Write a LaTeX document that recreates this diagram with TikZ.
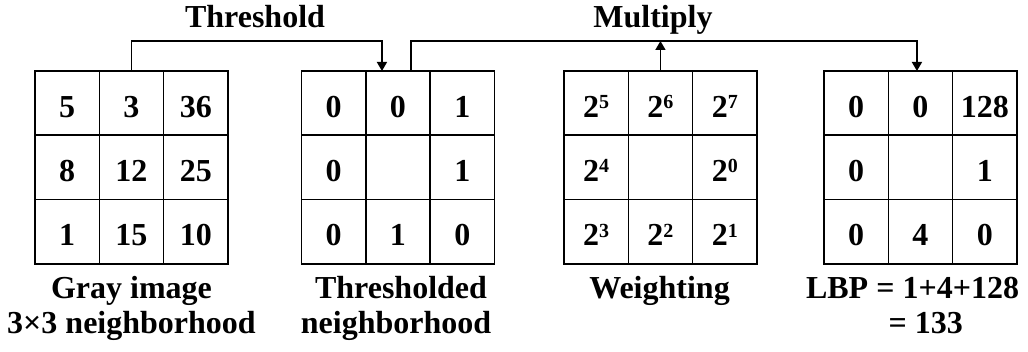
\documentclass[tikz,border=0pt]{standalone}
\usepackage{fontspec}
\setmainfont{Liberation Serif}
\usetikzlibrary{arrows.meta,calc}

% power of two with a raised exponent
\newcommand\pw[1]{2\raisebox{8.5pt}{\fontsize{20}{20}\selectfont#1}}
% one row of three cells: name, left x, top y, three values
\newcommand\gridrow[6]{%
  \node[cell] (#1c1) at (#2,#3) {#4};
  \node[cell] (#1c2) at ({#2+64.3},#3) {#5};
  \node[cell] (#1c3) at ({#2+128.6},#3) {#6};}

\begin{document}
\begin{tikzpicture}[x=1pt,y=-1pt,
  cell/.style={draw, line width=1.6pt, minimum size=64.3pt, inner sep=0pt,
    outer sep=0pt, anchor=north west, text height=28pt, text depth=0pt,
    font=\fontsize{32}{38}\selectfont\bfseries},
  lbl/.style={anchor=base, inner sep=0pt, font=\fontsize{32}{38}\selectfont\bfseries},
  conn/.style={line width=1.6pt},
  tip/.style={-{Triangle[length=9pt,width=10pt]}}]
\useasboundingbox (0,0) rectangle (1028,352);

% gray image neighbourhood
\gridrow{g1r1}{35}{71}{5}{3}{36}
\gridrow{g1r2}{35}{135.3}{8}{12}{25}
\gridrow{g1r3}{35}{199.6}{1}{15}{10}
% thresholded neighbourhood
\gridrow{g2r1}{301.5}{71}{0}{0}{1}
\gridrow{g2r2}{301.5}{135.3}{0}{}{1}
\gridrow{g2r3}{301.5}{199.6}{0}{1}{0}
% weights
\gridrow{g3r1}{564}{71}{\pw{5}}{\pw{6}}{\pw{7}}
\gridrow{g3r2}{564}{135.3}{\pw{4}}{}{\pw{0}}
\gridrow{g3r3}{564}{199.6}{\pw{3}}{\pw{2}}{\pw{1}}
% weighted result
\gridrow{g4r1}{824}{71}{0}{0}{128}
\gridrow{g4r2}{824}{135.3}{0}{}{1}
\gridrow{g4r3}{824}{199.6}{0}{4}{0}

% connector end points
\coordinate (tin) at ($(g2r1c2.north)+(-16,0)$);
\coordinate (mout) at ($(g2r1c2.north)+(13,0)$);
\coordinate (min) at ($(g4r1c2.north)+(-3.5,0)$);
\coordinate (bus) at ($(mout)+(0,-30)$);

\draw[conn,tip] (g1r1c2.north) -- ++(0,-30) -| (tin);
\draw[conn,tip] (mout) -- (bus) -| (min);
\draw[conn,tip] (g3r1c2.north) -- (g3r1c2.north |- bus);

% titles
\node[lbl] (thr) at (255,28) {Threshold};
\node[lbl] (mul) at (653,28) {Multiply};

% captions
\node[lbl] (c1a) at (131.5,299) {Gray image};
\node[lbl] (c1b) at (131.5,334) {3×3 neighborhood};
\node[lbl] (c2a) at (401,299) {Thresholded};
\node[lbl] (c2b) at (396,334) {neighborhood};
\node[lbl] (c3a) at (659.5,299) {Weighting};
\node[lbl] (c4a) at (912.5,299) {LBP = 1+4+128};
\node[lbl] (c4b) at (925.7,334) {= 133};
\end{tikzpicture}
\end{document}
